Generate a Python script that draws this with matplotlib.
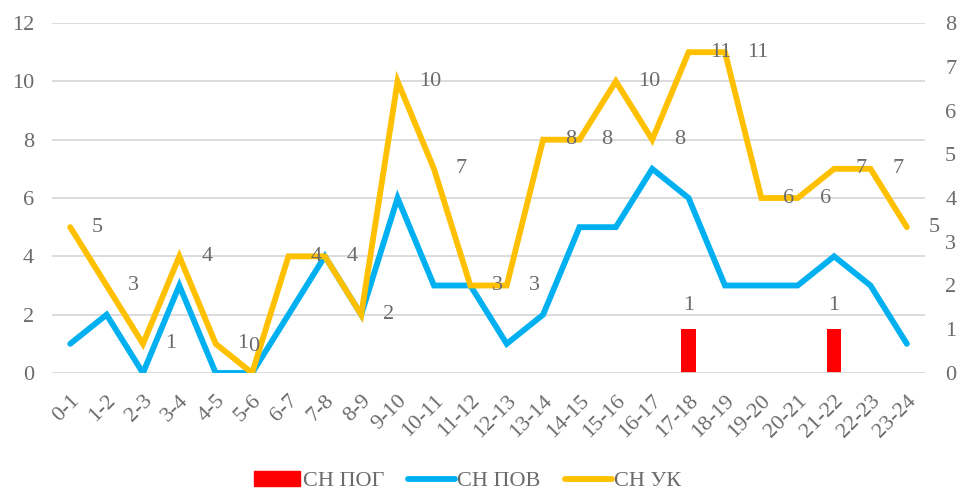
import matplotlib
matplotlib.use("Agg")
import matplotlib.pyplot as plt
from matplotlib.patches import Patch
from matplotlib.lines import Line2D
import numpy as np

categories = ["0-1", "1-2", "2-3", "3-4", "4-5", "5-6", "6-7", "7-8", "8-9", "9-10",
              "10-11", "11-12", "12-13", "13-14", "14-15", "15-16", "16-17", "17-18",
              "18-19", "19-20", "20-21", "21-22", "22-23", "23-24"]
sn_pog = [0, 0, 0, 0, 0, 0, 0, 0, 0, 0, 0, 0, 0, 0, 0, 0, 0, 1, 0, 0, 0, 1, 0, 0]
sn_pov = [1, 2, 0, 3, 0, 0, 2, 4, 2, 6, 3, 3, 1, 2, 5, 5, 7, 6, 3, 3, 3, 4, 3, 1]
sn_uk = [5, 3, 1, 4, 1, 0, 4, 4, 2, 10, 7, 3, 3, 8, 8, 10, 8, 11, 11, 6, 6, 7, 7, 5]
left_ticks = [0, 2, 4, 6, 8, 10, 12]
right_ticks = [0, 1, 2, 3, 4, 5, 6, 7, 8]

plt.rcParams['font.family'] = ['Liberation Serif', 'DejaVu Serif']
TXT = "#6b6b6b"
FS = 16

fig = plt.figure(figsize=(9.58, 4.9), dpi=100)
ax = fig.add_axes([0.0543, 0.2388, 0.9113, 0.7142])
ax2 = ax.twinx()

x = np.arange(len(categories))

ax.set_xlim(-0.5, len(categories) - 0.5)
ax.set_ylim(0, 12)
ax2.set_ylim(0, 8)
ax.set_yticks(left_ticks)
ax2.set_yticks(right_ticks)
ax.grid(axis='y', color='#D9D9D9', linewidth=1.3)
ax.set_axisbelow(True)

for a in (ax, ax2):
    for s in a.spines.values():
        s.set_visible(False)
    a.tick_params(length=0, labelsize=FS, labelcolor=TXT)
ax.tick_params(axis='y', pad=13)
ax2.tick_params(axis='y', pad=14.5)

ax.set_xticks(x)
ax.set_xticklabels(categories, rotation=45, ha='right', rotation_mode='anchor')
ax.tick_params(axis='x', pad=13)

# bars on secondary axis
ax2.bar(x, sn_pog, width=0.4, color='#FF0000', zorder=2)
for xi, v in zip(x, sn_pog):
    if v:
        ax2.text(xi, v + 0.55, str(v), ha='center', va='center', fontsize=FS, color=TXT)

ax.plot(x, sn_pov, color='#00B0F0', linewidth=4.2, solid_capstyle='round', solid_joinstyle='miter', zorder=3)
ax.plot(x, sn_uk, color='#FFC000', linewidth=4.2, solid_capstyle='round', solid_joinstyle='miter', zorder=4)
ax.set_zorder(ax2.get_zorder() + 1)
ax.patch.set_visible(False)

# data labels of СН УК (to the right of each point); the zero label sits slightly raised
for xi, v in zip(x, sn_uk):
    if v == 0:
        ax.text(xi + 0.05, v + 0.9, str(v), ha='center', va='center', fontsize=FS, color=TXT, zorder=5)
    else:
        ax.text(xi + 0.6, v, str(v), ha='left', va='center', fontsize=FS, color=TXT, zorder=5)

handles = [Patch(color='#FF0000'),
           Line2D([0], [0], color='#00B0F0', linewidth=4.2, solid_capstyle='round'),
           Line2D([0], [0], color='#FFC000', linewidth=4.2, solid_capstyle='round')]
fig.legend(handles, ["СН ПОГ", "СН ПОВ", "СН УК"], loc='center', bbox_to_anchor=(0.488, 0.018),
           ncol=3, frameon=False, fontsize=FS, labelcolor=TXT, handlelength=2.1,
           handletextpad=0.1, columnspacing=1.1)

fig.savefig("out.png", dpi=100)
